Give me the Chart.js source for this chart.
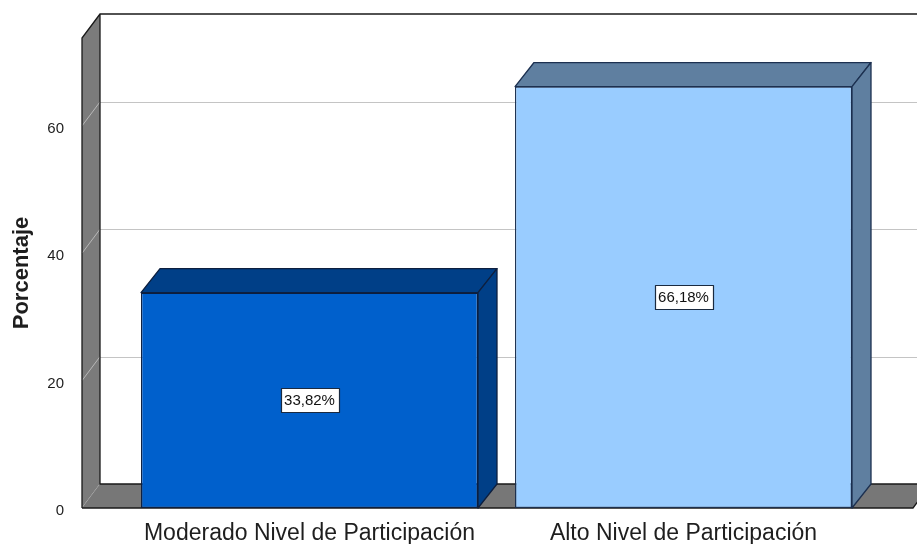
<!DOCTYPE html>
<html>
<head>
<meta charset="utf-8">
<script src="https://cdn.jsdelivr.net/npm/chart.js@4/dist/chart.umd.min.js"></script>
<style>
  html, body { margin: 0; padding: 0; background: #ffffff; }
  #wrap { width: 917px; height: 544px; }
</style>
</head>
<body>
<div id="wrap"><canvas id="c" width="917" height="544"></canvas></div>
<script>
// ---- data ----
const categories = ["Moderado Nivel de Participación", "Alto Nivel de Participación"];
const percentages = [33.82, 66.18];
const yTickValues = [0, 20, 40, 60];
const yAxisTitle = "Porcentaje";

// ---- styles ----
const frontColors = ["#0060cc", "#99ccff"];
const shadeColors = ["#003f87", "#5f7fa0"];
const edgeColors  = ["#0d1f3f", "#1c3050"];
const DEPTH_X = 18, DEPTH_Y = -24;      // wall depth
const BAR_DX = 19, BAR_DY = -24;        // bar depth
const FONT = "'Liberation Sans', Arial, sans-serif";

const threeD = {
  id: 'threeD',
  beforeDatasetsDraw(chart) {
    const ctx = chart.ctx;
    const a = chart.chartArea;
    const ys = chart.scales.y;
    const L = a.left, R = a.right, T = a.top, B = a.bottom;
    const W = chart.width + 40;
    ctx.save();
    // back wall
    ctx.fillStyle = '#ffffff';
    ctx.fillRect(L + DEPTH_X, T + DEPTH_Y, W, B - T);
    // gridlines on back wall
    ctx.strokeStyle = '#c4c4c4';
    ctx.lineWidth = 1;
    yTickValues.forEach(v => {
      const y = Math.round(ys.getPixelForValue(v) + DEPTH_Y) + 0.5;
      ctx.beginPath();
      ctx.moveTo(L + DEPTH_X, y);
      ctx.lineTo(W, y);
      ctx.stroke();
    });
    // left wall
    ctx.fillStyle = '#7b7b7b';
    ctx.beginPath();
    ctx.moveTo(L, T);
    ctx.lineTo(L + DEPTH_X, T + DEPTH_Y);
    ctx.lineTo(L + DEPTH_X, B + DEPTH_Y);
    ctx.lineTo(L, B);
    ctx.closePath();
    ctx.fill();
    // gridlines on left wall
    ctx.strokeStyle = '#b8b8b8';
    yTickValues.forEach(v => {
      const y = ys.getPixelForValue(v);
      ctx.beginPath();
      ctx.moveTo(L, y);
      ctx.lineTo(L + DEPTH_X, y + DEPTH_Y);
      ctx.stroke();
    });
    // floor
    ctx.fillStyle = '#777777';
    ctx.beginPath();
    ctx.moveTo(L, B);
    ctx.lineTo(L + DEPTH_X, B + DEPTH_Y);
    ctx.lineTo(R + DEPTH_X, B + DEPTH_Y);
    ctx.lineTo(R, B);
    ctx.closePath();
    ctx.fill();
    // outlines
    ctx.strokeStyle = '#1a1a1a';
    ctx.lineWidth = 1.3;
    ctx.beginPath();
    ctx.moveTo(L, B);
    ctx.lineTo(L, T);
    ctx.lineTo(L + DEPTH_X, T + DEPTH_Y);
    ctx.lineTo(W, T + DEPTH_Y);
    ctx.moveTo(L + DEPTH_X, T + DEPTH_Y);
    ctx.lineTo(L + DEPTH_X, B + DEPTH_Y);
    ctx.lineTo(R + DEPTH_X, B + DEPTH_Y);
    ctx.moveTo(L, B);
    ctx.lineTo(R, B);
    ctx.lineTo(R + DEPTH_X, B + DEPTH_Y);
    ctx.stroke();
    ctx.restore();
  },
  afterDatasetsDraw(chart) {
    const ctx = chart.ctx;
    const meta = chart.getDatasetMeta(0);
    ctx.save();
    meta.data.forEach((bar, i) => {
      const xl = bar.x - bar.width / 2, xr = bar.x + bar.width / 2;
      const yt = bar.y, yb = bar.base;
      ctx.fillStyle = shadeColors[i];
      ctx.strokeStyle = edgeColors[i];
      ctx.lineWidth = 1.3;
      ctx.lineJoin = 'round';
      // top face
      ctx.beginPath();
      ctx.moveTo(xl, yt);
      ctx.lineTo(xl + BAR_DX, yt + BAR_DY);
      ctx.lineTo(xr + BAR_DX, yt + BAR_DY);
      ctx.lineTo(xr, yt);
      ctx.closePath();
      ctx.fill(); ctx.stroke();
      // side face
      ctx.beginPath();
      ctx.moveTo(xr, yt);
      ctx.lineTo(xr + BAR_DX, yt + BAR_DY);
      ctx.lineTo(xr + BAR_DX, yb + BAR_DY);
      ctx.lineTo(xr, yb);
      ctx.closePath();
      ctx.fill(); ctx.stroke();
      // value label box
      const txt = percentages[i].toFixed(2).replace('.', ',') + '%';
      ctx.font = '15px ' + FONT;
      const tw = ctx.measureText(txt).width;
      const cx = bar.x, cy = (yt + yb) / 2;
      const bw = tw + 7, bh = 24;
      ctx.fillStyle = '#ffffff';
      ctx.fillRect(Math.round(cx - bw / 2) + 0.5, Math.round(cy - bh / 2) + 0.5, Math.round(bw), bh);
      ctx.strokeStyle = '#1a2a40';
      ctx.lineWidth = 1.2;
      ctx.strokeRect(Math.round(cx - bw / 2) + 0.5, Math.round(cy - bh / 2) + 0.5, Math.round(bw), bh);
      ctx.fillStyle = '#111111';
      ctx.textAlign = 'center';
      ctx.textBaseline = 'middle';
      ctx.fillText(txt, cx, cy + 1);
    });
    ctx.restore();
  }
};

const xMin = -0.6083, xMax = 1.6136;

new Chart(document.getElementById('c'), {
  type: 'bar',
  data: {
    datasets: [{
      data: percentages.map((v, i) => ({ x: i, y: v })),
      backgroundColor: frontColors,
      borderColor: edgeColors,
      borderWidth: 1.3,
      borderSkipped: false,
      barPercentage: 0.901,
      categoryPercentage: 1.0
    }]
  },
  plugins: [threeD],
  options: {
    responsive: false,
    animation: false,
    devicePixelRatio: 1,
    layout: { padding: { top: 38, right: 4, left: 0, bottom: 0 } },
    plugins: { legend: { display: false }, tooltip: { enabled: false } },
    scales: {
      x: {
        type: 'linear',
        offset: false,
        min: xMin, max: xMax,
        grid: { display: false, offset: false },
        border: { display: false },
        afterBuildTicks: s => { s.ticks = categories.map((_, i) => ({ value: i })); },
        afterFit: s => { s.height = 36; },
        ticks: {
          autoSkip: false, maxRotation: 0,
          padding: 4,
          color: '#1e1e1e',
          font: { family: FONT, size: 23 },
          callback: v => categories[v]
        }
      },
      y: {
        type: 'linear',
        min: 0, max: 73.8,
        grid: { display: false },
        border: { display: false },
        afterBuildTicks: s => { s.ticks = yTickValues.map(v => ({ value: v })); },
        afterFit: s => { s.width = 82; },
        ticks: {
          padding: 10,
          labelOffset: 3,
          color: '#1e1e1e',
          font: { family: FONT, size: 15 }
        },
        title: {
          display: true,
          text: yAxisTitle,
          color: '#1e1e1e',
          padding: { top: 9, bottom: 0 },
          font: { family: FONT, size: 22, weight: 'bold' }
        }
      }
    }
  }
});
</script>
</body>
</html>
